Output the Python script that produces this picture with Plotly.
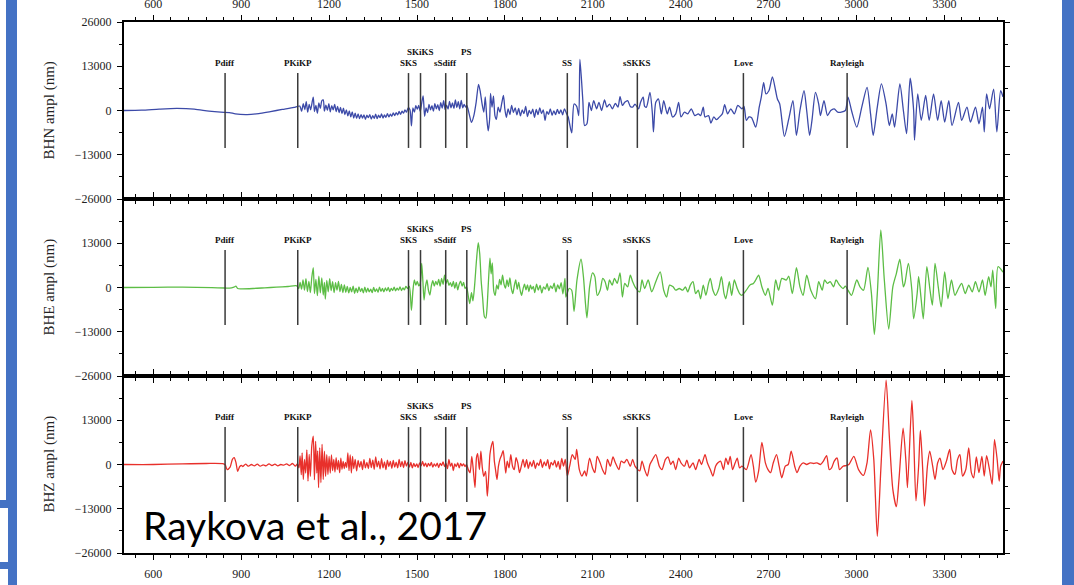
import plotly.graph_objects as go

# ---------------- data ----------------
phase_names = ["Pdiff", "PKiKP", "SKS", "SKiKS", "sSdiff", "PS", "SS", "sSKKS", "Love", "Rayleigh"]
phase_times = [845, 1093, 1471, 1512, 1598, 1670, 2013, 2252, 2614, 2968]
phase_high = [False, False, False, True, False, True, False, False, False, False]

x_tick_vals = [600, 900, 1200, 1500, 1800, 2100, 2400, 2700, 3000, 3300]
y_tick_vals_top = [26000, 13000, 0, -13000, -26000]
y_tick_text_top = ["26000", "13000", "0", "\u221213000", "\u221226000"]
y_tick_vals = [13000, 0, -13000, -26000]
y_tick_text = ["13000", "0", "\u221213000", "\u221226000"]

channel_names = ["BHN ampl (nm)", "BHE ampl (nm)", "BHZ ampl (nm)"]

bhn_time = [
    500, 560, 620, 680, 740, 790, 830, 860, 880, 920, 960, 1000, 1040, 1080, 1100,
    1106, 1112, 1117, 1122, 1127, 1132, 1137, 1142, 1146, 1150, 1155, 1160, 1165, 1170, 1175, 1180,
    1184, 1189, 1194, 1199, 1204, 1209, 1214, 1219, 1224, 1229, 1234, 1239, 1244, 1249, 1254, 1259,
    1264, 1269, 1274, 1279, 1284, 1289, 1294, 1299, 1304, 1309, 1314, 1319, 1324, 1329, 1334, 1339,
    1344, 1349, 1354, 1359, 1364, 1369, 1374, 1379, 1384, 1389, 1394, 1399, 1404, 1409, 1414, 1419,
    1424, 1429, 1434, 1439, 1444, 1449, 1454, 1459, 1464, 1470,
    1476, 1481, 1486, 1491, 1496, 1501, 1506, 1511, 1516, 1521, 1526, 1531, 1536, 1541, 1546, 1551,
    1556, 1561, 1566, 1571, 1576, 1581, 1586, 1591, 1596, 1601, 1606, 1611, 1616, 1621, 1626, 1631,
    1636, 1641, 1646, 1651, 1656, 1661, 1666, 1670,
    1678, 1686, 1694, 1702, 1710, 1716, 1722, 1728, 1733, 1738, 1743, 1748, 1751, 1756, 1761, 1766,
    1771, 1777, 1783, 1789, 1795, 1800, 1805, 1811, 1817, 1823, 1829, 1835, 1841, 1847, 1853, 1859,
    1865, 1871, 1877, 1883, 1889, 1895, 1901, 1907, 1913, 1919, 1925, 1931, 1937, 1943, 1949, 1955,
    1961, 1967, 1973, 1979, 1985, 1991, 1997, 2003, 2010,
    2016, 2028, 2036, 2045, 2052, 2056, 2066, 2072, 2080, 2087, 2095, 2103, 2113, 2121, 2130, 2140,
    2148, 2157, 2167, 2177, 2186, 2193, 2201, 2209, 2219, 2228, 2236, 2244, 2256, 2263, 2272, 2277,
    2283, 2295, 2303, 2307, 2315, 2324, 2334, 2342, 2354, 2362, 2372, 2383, 2393, 2401, 2413, 2424,
    2436, 2448, 2460, 2468, 2477, 2483, 2495, 2503, 2513, 2522, 2530, 2542, 2550, 2560, 2571, 2583,
    2595, 2609, 2616, 2624, 2633, 2642, 2656, 2668, 2675, 2683, 2691, 2701, 2713, 2724, 2730, 2738,
    2754, 2769, 2783, 2795, 2807, 2821, 2830, 2840, 2848, 2860, 2871, 2877, 2889, 2901, 2912, 2924,
    2936, 2948, 2962, 2971, 2983, 3001, 3018, 3036, 3048, 3057, 3071, 3085, 3101, 3112, 3122, 3130,
    3148, 3160, 3171, 3183, 3195, 3198, 3209, 3221, 3236, 3248, 3263, 3277, 3289, 3301, 3315, 3326,
    3348, 3359, 3377, 3389, 3406, 3418, 3430, 3436, 3444, 3454, 3468, 3479, 3492, 3500,
]
bhn_ampl = [
    0, 100, 400, 600, 400, -200, -500, -600, -1000, -1200, -900, -300, 300, 900, 1300,
    -200, 2000, 300, 2600, -500, 1800, 200, 2400, 3900, -300, 1500, -800, 2200, 600, 2800, 3100,
    -200, 1600, 100, 2000, -400, 1400, 200, 1800, -300, 1200, -600, 900, -900, 700, -1200, 200,
    -1600, -100, -1900, -400, -2200, -800, -2300, -1000, -2400, -1200, -2200, -1300, -2600, -1400, -2100, -1200,
    -2500, -1500, -2300, -1100, -2400, -1400, -2100, -1000, -2200, -1300, -2000, -900, -1900, -1100, -1700, -700,
    -1500, -600, -1300, -300, -1100, -200, -800, 200, -500, 800,
    200, -4500, 800, -500, 1400, 400, 1500, -300, 2200, 4300, -1700, 800, -600, 1800, 200, 1400,
    -200, 2000, 500, 1700, 0, 2300, 700, 2900, 300, 1600, 400, 2700, 800, 2200, 600, 3100,
    900, 2600, 500, 3000, 800, 1800, 1000, 1500,
    -1000, -3500, -1500, 2500, 7700, 5500, 2000, -500, 4000, -2000, -6000, -2500, 5000, 1000, 4200, -1500,
    -2600, 1000, -500, 2000, 4400, 300, -2000, 500, -1200, 1500, -600, 800, -1300, 600, -1600, 200,
    -900, 1200, -1800, 0, -1000, 400, -2000, 300, -1200, 800, -900, 200, -2900, -300, -1100, 500,
    -1400, -100, -1200, 300, -900, 200, -1300, 500, -800,
    -1900, -6600, 1900, 1200, -1500, 15000, 2900, -4400, -3900, 2400, 0, 2900, 500, 2400, 0, 3100,
    1000, 1900, 500, 2100, 1000, 4100, 1500, 2400, 2900, 1200, 1000, 1900, 500, 2400, 3900, 1200,
    1000, 5300, -500, -6300, 2400, 3400, -1000, 2900, -1000, 1000, -1900, -1000, 2400, -1900, -500, -1000,
    500, -1500, -1000, -1500, 1000, -1900, -1500, -3700, -1900, -2700, -2100, -1000, 1700, -1000, 500, -1000,
    1500, 500, 1200, -2900, -1900, -2100, -4900, 1000, 3900, 8200, 4900, 5800, 9900, 5800, 3400, 1900,
    -7600, -2400, 2900, -7300, 0, 5800, 0, -7300, -2900, 5300, 1900, -1500, 2900, -1500, 0, 500,
    -500, -500, 0, 3900, 0, -4900, 1000, 6800, -1000, -7300, 1000, 7800, 1900, -4400, -1000, -4900,
    7800, 0, -6800, 9500, 0, -8700, 4900, -2900, 4400, -2900, 4900, -2900, 2900, -3400, 2900, -4400,
    2400, -2900, 1000, -3400, 1000, -3900, 1000, -6300, 4900, 500, 6300, -6300, 5800, 4000,
]

bhe_time = [
    500, 600, 700, 800, 845, 860, 875, 882, 888, 900, 940, 980, 1020, 1060, 1090,
    1096, 1101, 1106, 1111, 1116, 1121, 1126, 1131, 1136, 1141, 1146, 1150, 1155, 1160, 1165, 1170,
    1175, 1180, 1184, 1187, 1192, 1197, 1202, 1207, 1212, 1217, 1222, 1227, 1232, 1237, 1242, 1247, 1252,
    1257, 1262, 1267, 1272, 1277, 1282, 1287, 1292, 1297, 1302, 1307, 1312, 1317, 1322, 1327, 1332,
    1337, 1342, 1347, 1352, 1357, 1362, 1367, 1372, 1377, 1382, 1387, 1392, 1397, 1402, 1407, 1412,
    1417, 1422, 1427, 1432, 1437, 1442, 1447, 1452, 1457, 1462, 1468,
    1474, 1481, 1486, 1491, 1496, 1501, 1506, 1511, 1516, 1520, 1524, 1529, 1534, 1539, 1544, 1549,
    1554, 1559, 1564, 1569, 1574, 1579, 1584, 1589, 1594, 1599, 1604, 1609, 1614, 1619, 1624, 1629,
    1634, 1639, 1644, 1649, 1654, 1659, 1664, 1669,
    1675, 1680, 1686, 1691, 1697, 1703, 1709, 1714, 1719, 1724, 1730, 1735, 1739, 1744, 1749, 1753,
    1757, 1762, 1767, 1772, 1777, 1782, 1787, 1792, 1797, 1802, 1807, 1812, 1817, 1822, 1827, 1832,
    1837, 1842, 1847, 1852, 1857, 1862, 1867, 1872, 1877, 1882, 1887, 1892, 1897,
    1902, 1908, 1914, 1920, 1926, 1932, 1938, 1944, 1950, 1956, 1962, 1968, 1974, 1980, 1986, 1992,
    1998, 2005, 2008,
    2019, 2028, 2036, 2046, 2060, 2068, 2075, 2080, 2089, 2099, 2107, 2115, 2125, 2134, 2142, 2150,
    2157, 2166, 2174, 2183, 2193, 2201, 2209, 2219, 2228, 2236, 2244, 2260, 2268, 2277, 2289, 2301,
    2315, 2330, 2342, 2352, 2362, 2374, 2383, 2395, 2407, 2416, 2424, 2433, 2442, 2451, 2460, 2468,
    2477, 2486, 2495, 2501, 2510, 2519, 2530, 2539, 2548, 2554, 2566, 2574, 2583, 2593, 2601, 2609,
    2624, 2636, 2648, 2656, 2666, 2677, 2689, 2698, 2713, 2724, 2734, 2745, 2760, 2769, 2781, 2795,
    2807, 2818, 2830, 2844, 2860, 2871, 2883, 2891, 2901, 2910, 2922, 2930, 2942, 2954, 2962, 2971,
    2983, 3001, 3012, 3024, 3039, 3051, 3061, 3071, 3083, 3095, 3110, 3124, 3136, 3148, 3160, 3165,
    3177, 3189, 3195, 3207, 3212, 3221, 3228, 3240, 3251, 3259, 3268, 3279, 3289, 3301, 3312, 3324,
    3336, 3348, 3359, 3371, 3383, 3395, 3406, 3418, 3430, 3439, 3451, 3459, 3465, 3475, 3483, 3500,
]
bhe_ampl = [
    0, 50, 100, -50, -150, -200, 100, 400, -300, -400, -300, -100, 100, 300, 500,
    -300, 1500, -500, 2200, -800, 2600, -1200, 1800, -1500, 3000, 5800, -1800, 2400, -2400, 3300, -1600,
    2800, -2200, 1500, -3400, 2100, -1300, 2600, -900, 1700, -1500, 1400, -800, 1800, -1200, 900, -1500, 800,
    -1400, 300, -1600, 0, -1300, 400, -1700, -200, -1500, 200, -1200, -300, -1600, 100, -1400, -200,
    -1300, -500, -1500, 0, -1200, -400, -1400, 100, -1100, -300, -1300, -100, -1000, 0, -1200, -300,
    -900, 100, -1000, -200, -800, 200, -900, -100, -700, 300, -300,
    300, -6700, -1000, 2200, 700, 1800, 500, 1200, 7100, 2000, -3700, 300, 2200, -800, -2200, 500,
    2000, 400, 1800, 800, 2400, 400, 2700, 900, 3600, 1200, 2300, 600, 1400, 300, 1800, -200,
    1500, -700, 1000, 1900, 400, 1500, -300, 200,
    -2500, -4700, -1500, -3900, 1000, 8000, 13200, 10000, 2000, -3000, -8500, -9000, -6000, 2000, 8600, 4000,
    7200, -1000, -2300, 800, -500, 2400, 800, 3600, 1000, -200, 2200, 300, 2800, -300, -1800, 500,
    2200, -500, 1500, -800, -2300, -400, 1000, -700, 800, -1200, 700, -500, 300,
    -1500, 1000, -800, 600, -1600, 200, -500, 1100, -900, 500, -300, 1300, -1300, 800, -400, 1400,
    -1900, 2700, -2800,
    -300, -800, -7000, 2200, 8300, 3200, -4700, -8900, 200, 4300, 3200, -2300, -800, 2700, 1700, -800,
    2200, 700, 2700, 1200, 4300, -2800, 1200, 200, 3600, 1700, 200, -1300, 2200, -300, 2200, -1300,
    1700, 4600, -800, -2800, 700, 200, -800, -300, -800, 200, -1300, 700, 1700, -1800, -800, -3300,
    700, -2300, 1200, 2700, -800, -2300, -300, 3200, -1800, -3300, 1700, -2300, 2200, -300, -1800, -2300,
    -800, 700, 1200, 2200, 3600, 200, -2300, -300, -5200, 2200, -800, 2700, 2200, 3300, -1800, 5800,
    200, -2300, 3600, -800, -3300, 1700, -800, 2200, 1200, 1700, 200, 2200, 700, -300, 400, -800,
    -2300, 2200, 200, -800, 5900, -1800, -13800, -1800, 16900, 2200, -12200, 200, 4100, 8300, 200, 1200,
    7100, -800, -9200, -1800, 3200, -3700, -9200, 6100, -800, -5200, 7100, 200, -5700, 4600, -3300, 2200,
    -2300, -300, 1200, -1800, 700, -1300, 1700, -1300, 2200, -2300, 3200, 200, 5100, -6200, 6100, 4500,
]

bhz_time = [
    500, 600, 700, 780, 840, 846, 852, 862, 870, 876, 882, 888, 895, 902,
    905, 915, 925, 935, 945, 955, 965, 975, 985, 995, 1005, 1015, 1025, 1035, 1045, 1055, 1065, 1075, 1085, 1092,
    1097, 1101, 1105, 1108, 1112, 1116, 1120, 1124, 1128, 1132, 1136, 1141, 1146, 1150, 1154, 1158,
    1161, 1164, 1168, 1172, 1176, 1180, 1184, 1188, 1192, 1196, 1200, 1204, 1208, 1212, 1216, 1220,
    1224, 1228, 1232, 1236, 1240, 1244, 1248, 1252, 1256,
    1260, 1264, 1268, 1272, 1276, 1280, 1284, 1289, 1294, 1299, 1304, 1309, 1314, 1319, 1324, 1329,
    1334, 1339, 1344, 1349, 1354, 1359, 1364, 1369, 1374, 1379, 1384, 1389, 1394, 1399, 1404, 1409,
    1414, 1419, 1424, 1429, 1434, 1439, 1444, 1449, 1454, 1459, 1464, 1469,
    1474, 1479, 1484, 1489, 1494, 1499, 1504, 1509, 1514, 1519, 1524, 1529, 1534, 1539, 1544, 1549,
    1554, 1559, 1564, 1569, 1574, 1579, 1584, 1589, 1594, 1599, 1604, 1609, 1614, 1619, 1624, 1629,
    1634, 1639, 1644, 1649, 1654, 1659, 1664, 1669,
    1675, 1681, 1687, 1692, 1698, 1703, 1707, 1713, 1718, 1723, 1728, 1734, 1740, 1745, 1749, 1754,
    1759, 1764, 1768, 1773, 1778, 1783, 1789, 1794, 1799, 1803, 1808, 1814, 1820, 1826, 1832, 1838,
    1844, 1850, 1856, 1862, 1868, 1874, 1880, 1886,
    1892, 1898, 1904, 1910, 1916, 1922, 1928, 1934, 1940, 1946, 1952, 1958, 1964, 1970, 1976, 1982,
    1988, 1994, 2000, 2006,
    2013, 2021, 2030, 2040, 2045, 2054, 2063, 2072, 2078, 2089, 2099, 2107, 2115, 2125, 2133, 2142,
    2150, 2160, 2169, 2177, 2189, 2197, 2207, 2216, 2228, 2236, 2244, 2260, 2268, 2277, 2286, 2295,
    2303, 2315, 2327, 2336, 2348, 2357, 2366, 2374, 2383, 2393, 2401, 2413, 2421, 2430, 2442, 2451,
    2463, 2471, 2483, 2491, 2501, 2510, 2519, 2527, 2536, 2546, 2554, 2562, 2569, 2577, 2586, 2593,
    2601, 2609, 2624, 2640, 2648, 2656, 2666, 2677, 2689, 2698, 2707, 2716, 2727, 2736, 2745, 2757,
    2767, 2777, 2789, 2797, 2807, 2818, 2830, 2842, 2854, 2865, 2877, 2887, 2898, 2907, 2915, 2924,
    2934, 2942, 2954, 2965, 2974, 2991, 3007, 3024, 3036, 3048, 3059, 3071, 3083, 3101, 3112, 3124,
    3136, 3145, 3159, 3169, 3174, 3189, 3195, 3203, 3212, 3218, 3226, 3232, 3242, 3250, 3260, 3268,
    3277, 3285, 3295, 3307, 3318, 3326, 3336, 3345, 3353, 3362, 3373, 3383, 3392, 3400, 3409, 3418,
    3428, 3436, 3444, 3454, 3463, 3471, 3480, 3487, 3492, 3500,
]
bhz_ampl = [
    0, 0, 200, 300, 200, -200, -1500, -800, 1500, 2000, 600, -2000, -600, -300,
    -600, 100, -500, 0, -400, 100, -500, -100, -400, 200, -300, 100, -400, 0, -200, 200, -300, 300, -500, 200,
    -1000, 2500, -3000, 3400, -4400, 1500, -2500, 4300, -4900, 3000, -3500, 5500, 8300, -4500, 6800, -2500,
    4000, -6800, 4900, -5300, 5900, -4400, 3900, -3500, 2900, -2900, 2400, -2500, 2800, -1800, 1500, -2200,
    2000, -1500, 1200, -2400, 1900, -1400, 900, -1200, 600,
    -900, 3400, -1800, 2800, -2500, 2400, -1200, 1500, -1900, 1200, -800, 900, -1500, 1400, -1000, 600,
    -1200, 1800, -900, 1300, -1400, 2200, -700, 1000, -1300, 1700, -1000, 800, -1500, 1300, -600, 900,
    -1100, 1200, -800, 700, -1000, 1500, -600, 900, -900, 1100, -500, 700,
    -800, 600, -1000, 300, -600, 200, -900, 500, -400, 900, -500, 400, -700, 300, -400, 600,
    -800, 200, -500, 400, -900, 300, -300, 800, -600, 300, -1200, 1500, -500, 400, -1800, 200,
    -600, 500, -1000, 300, -400, 200, -600, 0,
    -1500, -2400, 2400, -1500, -6800, 2000, 3200, -1500, 3900, -1000, -3500, -2000, -9300, -3000, 3000, 5500,
    6800, 1000, -1500, -4400, -500, 1500, 2800, 4100, 500, -2500, 1000, -1000, 2900, -500, -1500, 2000,
    500, -2400, -500, 1500, -800, 1400, -1200, 800,
    -600, 1200, -1200, 500, -300, 1500, -900, 800, -400, 1400, -1300, 600, -200, 1200, -800, 900,
    -1400, 1800, -500, 1500,
    -3400, -500, 2900, 1500, 4400, -1500, -3400, -1900, -3400, 1900, -1000, -2400, 2400, 500, -1500, -2900,
    1500, -500, 2200, 500, -1500, 1000, 500, 1500, -500, 1500, -500, -1900, 1000, -1500, -3400, 0,
    1300, 2900, -500, -1500, 1500, 2200, 0, 1000, -1500, 1900, 500, -500, 1300, -1000, 500, -1500,
    1500, 0, 2900, 500, -1500, -3400, -500, 500, 1000, -1500, 1900, 0, 2400, -1500, 500, 1900,
    -1000, -500, -1500, 2900, -500, -5200, -1900, 6500, 500, -1500, -2400, 500, 2900, -500, -3900, -500,
    0, 3900, -500, -2400, -500, 500, 0, 500, 300, 500, 0, 1000, 2600, -1500, -1000, 1000,
    1900, -1500, -500, -300, 0, 2400, -1500, -3200, 500, 10200, 1500, -21100, -1500, 24800, 8300, -7300,
    -12400, -4400, 10700, 500, -6800, 18800, 8300, -10700, -500, 10000, -1500, -12200, -500, 3900, -500, -4400,
    500, 1900, -1500, 1000, 4400, -1500, -2900, 1500, 2900, -3400, -1500, 4900, -2400, -3900, 2200, -2400,
    2400, -3400, 2600, -1500, -5800, 7300, 1500, -4900, -500, 1000,
]

trace_times = [bhn_time, bhe_time, bhz_time]
trace_ampls = [bhn_ampl, bhe_ampl, bhz_ampl]
trace_colors = ["#3C4AA8", "#5CBD45", "#E8302B"]

# ---------------- layout geometry ----------------
W, H = 1074, 585
ML, MR, MT, MB = 124, 71, 22, 32
PW, PH = W - ML - MR, H - MT - MB


def px_x(px):
    return (px - ML) / PW


def px_y(py):
    return (H - MB - py) / PH


serif = "Liberation Serif, Times New Roman, serif"
fig = go.Figure()

for i in range(3):
    sfx = "" if i == 0 else str(i + 1)
    fig.add_trace(go.Scatter(
        x=trace_times[i], y=trace_ampls[i], mode="lines",
        line=dict(color=trace_colors[i], width=1.3, shape="spline", smoothing=0.7),
        xaxis="x" + sfx, yaxis="y" + sfx, showlegend=False, hoverinfo="skip",
    ))

domains = [[2 / 3, 1.0], [1 / 3, 2 / 3], [0.0, 1 / 3]]
axis_common = dict(
    showline=True, linecolor="black", linewidth=2, mirror="ticks",
    ticks="outside", ticklen=5, tickwidth=1, tickcolor="black",
    showgrid=False, zeroline=False, automargin=False,
    tickfont=dict(family=serif, size=12, color="#222"),
)
for i in range(3):
    sfx = "" if i == 0 else str(i + 1)
    xa = dict(axis_common)
    xa.update(
        range=[500, 3500], anchor="y" + sfx,
        tickmode="array", tickvals=x_tick_vals,
        minor=dict(tickmode="linear", tick0=0, dtick=60, ticklen=3, ticks="outside", tickcolor="black"),
        showticklabels=(i != 1),
        side="top" if i == 0 else "bottom",
        ticklabelstandoff=2 if i == 0 else 4,
    )
    if i > 0:
        xa["matches"] = "x"
    ya = dict(axis_common)
    ya.update(
        range=[-26000, 26000], domain=domains[i], anchor="x" + sfx,
        tickmode="array",
        tickvals=y_tick_vals_top if i == 0 else y_tick_vals,
        ticktext=y_tick_text_top if i == 0 else y_tick_text,
        minor=dict(tickmode="array", tickvals=[-19500, -6500, 6500, 19500], ticklen=3,
                   ticks="outside", tickcolor="black"),
        ticklabelstandoff=3,
    )
    fig.layout["xaxis" + sfx] = xa
    fig.layout["yaxis" + sfx] = ya

shapes = []
annotations = []
for i in range(3):
    sfx = "" if i == 0 else str(i + 1)
    for name, t, high in zip(phase_names, phase_times, phase_high):
        shapes.append(dict(type="line", xref="x" + sfx, yref="y" + sfx,
                           x0=t, x1=t, y0=-11000, y1=11000,
                           line=dict(color="#3a3a3a", width=1.5)))
        annotations.append(dict(xref="x" + sfx, yref="y" + sfx, x=t,
                                y=17300 if high else 14000,
                                text="<b>" + name + "</b>", showarrow=False,
                                xanchor="center", yanchor="middle",
                                font=dict(family=serif, size=9, color="#111")))
    annotations.append(dict(xref="paper", yref="paper", x=px_x(49),
                            y=(domains[i][0] + domains[i][1]) / 2,
                            text=channel_names[i], showarrow=False, textangle=-90,
                            xanchor="center", yanchor="middle",
                            font=dict(family=serif, size=15, color="#222")))

annotations.append(dict(xref="paper", yref="paper", x=px_x(141), y=px_y(525),
                        text="Raykova et al., 2017", showarrow=False,
                        xanchor="left", yanchor="middle",
                        font=dict(family="Lato, sans-serif", size=39, color="black")))

# slide decoration (blue bars of the presentation frame)
blue = "#4472C4"
deco = [
    (6, 0, 17, 500), (8, 500, 17, 585), (0, 500, 8, 508), (0, 562, 8, 569), (1062, 0, 1074, 585),
]
for x0, y0, x1, y1 in deco:
    shapes.append(dict(type="rect", xref="paper", yref="paper",
                       x0=px_x(x0), x1=px_x(x1), y0=px_y(y1), y1=px_y(y0),
                       fillcolor=blue, line=dict(width=0), layer="above"))

fig.update_layout(
    width=W, height=H,
    margin=dict(l=ML, r=MR, t=MT, b=MB, pad=0, autoexpand=False),
    paper_bgcolor="white", plot_bgcolor="white",
    shapes=shapes, annotations=annotations,
    showlegend=False,
)

fig.write_html(
    "out.html",
    config={"displayModeBar": False},
    post_script="document.body.style.margin='0';document.body.style.overflow='hidden';",
)
